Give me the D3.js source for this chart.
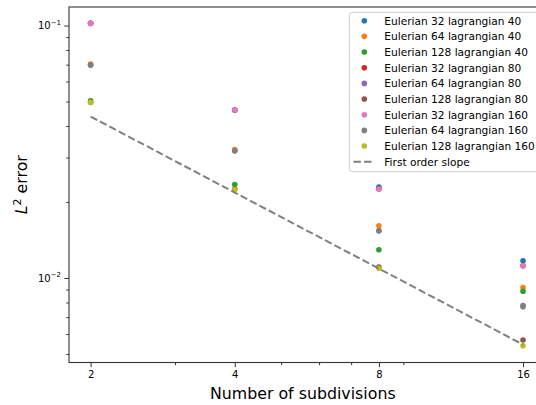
<!DOCTYPE html>
<html><head><meta charset="utf-8">
<script src="https://cdn.jsdelivr.net/npm/d3@7"></script>
<style>
body{margin:0;background:#fff;}
text{font-family:"DejaVu Sans",sans-serif;fill:#000;}
</style></head>
<body><svg id="c" width="536" height="405"></svg>
<script>
const subdivisions = [2, 4, 8, 16];
const seriesNames = [
  "Eulerian 32 lagrangian 40","Eulerian 64 lagrangian 40","Eulerian 128 lagrangian 40",
  "Eulerian 32 lagrangian 80","Eulerian 64 lagrangian 80","Eulerian 128 lagrangian 80",
  "Eulerian 32 lagrangian 160","Eulerian 64 lagrangian 160","Eulerian 128 lagrangian 160"];
const e32l40  = [0.1020, 0.0463, 0.02293, 0.01171];
const e64l40  = [0.0703, 0.0323, 0.01611, 0.00916];
const e128l40 = [0.0503, 0.02346, 0.01294, 0.00886];
const e32l80  = [0.1020, 0.0463, 0.02252, 0.01119];
const e64l80  = [0.0698, 0.0319, 0.01539, 0.00778];
const e128l80 = [0.0497, 0.0225, 0.01105, 0.00568];
const e32l160 = [0.1020, 0.0463, 0.02252, 0.01119];
const e64l160 = [0.0698, 0.0319, 0.01539, 0.00770];
const e128l160= [0.0496, 0.02241, 0.01092, 0.00539];
const seriesValues = [e32l40,e64l40,e128l40,e32l80,e64l80,e128l80,e32l160,e64l160,e128l160];
const slopeValues = [0.0436, 0.0218, 0.0109, 0.00545];
const xTickValues = [2, 4, 8, 16];
const xMinorTicks = [3, 5, 6, 7, 9];
const yMajorTicks = [0.01, 0.1];
const yTickExponents = ["\u22122", "\u22121"];
const yMinorTicks = [0.005,0.006,0.007,0.008,0.009,0.02,0.03,0.04,0.05,0.06,0.07,0.08,0.09];
const colors = ["#1f77b4","#ff7f0e","#2ca02c","#d62728","#9467bd","#8c564b","#e377c2","#7f7f7f","#bcbd22"];

const svg = d3.select("#c");
const L = 69, R = 544.6, T = 7, B = 362.5;
const x = d3.scaleLog().base(2).domain([1.8025, 17.75]).range([L, R]);
const y = d3.scaleLog().domain([0.004628, 0.1184]).range([B, T]);

// axes ticks
const axisX = d3.axisBottom(x).tickValues(xTickValues).tickFormat(d3.format("d")).tickSize(4.7).tickPadding(4);
const gx = svg.append("g").attr("transform", `translate(0,${B})`).call(axisX);
gx.select(".domain").remove();
gx.selectAll("text").attr("font-size", 10).attr("font-family","DejaVu Sans");
gx.selectAll("line").attr("stroke", "#333");
const gxm = svg.append("g").attr("transform", `translate(0,${B})`)
  .call(d3.axisBottom(x).tickValues(xMinorTicks).tickFormat("").tickSize(2.7));
gxm.select(".domain").remove();
gxm.selectAll("line").attr("stroke", "#333");

const gy = svg.append("g").attr("transform", `translate(${L},0)`)
  .call(d3.axisLeft(y).tickValues(yMajorTicks).tickFormat("").tickSize(4.7));
gy.select(".domain").remove();
gy.selectAll("line").attr("stroke", "#333");
const gym = svg.append("g").attr("transform", `translate(${L},0)`)
  .call(d3.axisLeft(y).tickValues(yMinorTicks).tickFormat("").tickSize(2.7));
gym.select(".domain").remove();
gym.selectAll("line").attr("stroke", "#333");

yMajorTicks.forEach((v, i) => {
  const t = svg.append("text").attr("x", 61).attr("y", y(v) + 3.6)
    .attr("text-anchor", "end").attr("font-size", 10);
  t.append("tspan").text("10");
  t.append("tspan").attr("dy", -4.5).attr("font-size", 7).text(yTickExponents[i]);
});

// points
seriesValues.forEach((vals, si) => {
  svg.append("g").selectAll("circle").data(vals).join("circle")
    .attr("cx", (d, i) => x(subdivisions[i])).attr("cy", d => y(d))
    .attr("r", 2.8).attr("fill", colors[si]);
});

// slope line
svg.append("path").datum(slopeValues)
  .attr("d", d3.line().x((d, i) => x(subdivisions[i])).y(d => y(d)))
  .attr("fill", "none").attr("stroke", "#808080").attr("stroke-width", 2)
  .attr("stroke-dasharray", "7.4,3.2");

// frame
svg.append("rect").attr("x", L).attr("y", T).attr("width", R - L).attr("height", B - T)
  .attr("fill", "none").attr("stroke", "#333").attr("stroke-width", 1.1);

// axis labels
svg.append("text").attr("x", (L + R) / 2 - 4).attr("y", 399).attr("text-anchor", "middle")
  .attr("font-size", 15.8).text("Number of subdivisions");
const yl = svg.append("text").attr("transform", `translate(26.5,${(T + B) / 2}) rotate(-90)`)
  .attr("text-anchor", "middle").attr("font-size", 15.8);
yl.append("tspan").attr("font-style", "italic").text("L");
yl.append("tspan").attr("dy", -6).attr("font-size", 11).text("2");
yl.append("tspan").attr("dy", 6).text(" error");

// legend
const lg = svg.append("g");
lg.append("rect").attr("x", 349.3).attr("y", 12.3).attr("width", 192).attr("height", 159.4)
  .attr("rx", 3).attr("fill", "#fff").attr("fill-opacity", 0.8).attr("stroke", "#cccccc").attr("stroke-width", 1);
const rowY = i => 20.7 + i * 15.67;
seriesNames.forEach((n, i) => {
  lg.append("circle").attr("cx", 364.3).attr("cy", rowY(i)).attr("r", 2.8).attr("fill", colors[i]);
  lg.append("text").attr("x", 384.3).attr("y", rowY(i) + 3.8).attr("font-size", 10.6).text(n);
});
lg.append("line").attr("x1", 353.5).attr("x2", 374.5).attr("y1", rowY(9)).attr("y2", rowY(9))
  .attr("stroke", "#808080").attr("stroke-width", 2).attr("stroke-dasharray", "7.4,3.2");
lg.append("text").attr("x", 384.3).attr("y", rowY(9) + 3.8).attr("font-size", 10.6).text("First order slope");
</script></body></html>
